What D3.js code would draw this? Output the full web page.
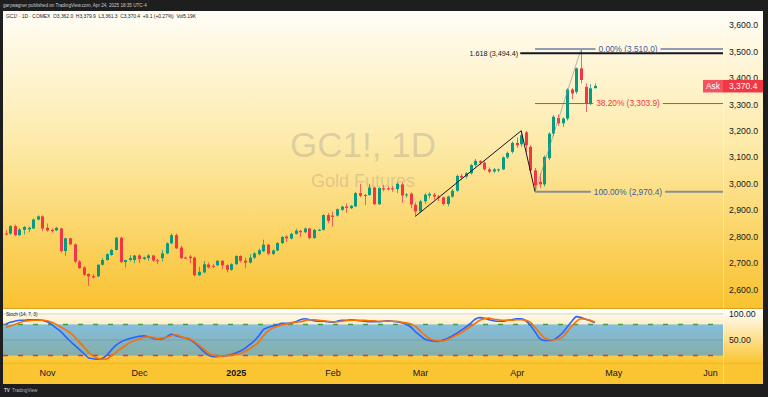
<!DOCTYPE html>
<html>
<head>
<meta charset="utf-8">
<script src="https://cdn.jsdelivr.net/npm/d3@7"></script>
<style>
html, body { margin: 0; padding: 0; background: #1e1e1e; }
svg { display: block; font-family: "Liberation Sans", Arial, sans-serif; }
</style>
</head>
<body>
<svg id="chart" width="768" height="397"></svg>
<script>
// trading days start here, weekends and these exchange holidays are skipped
var startDate = "2024-10-21";
var holidays = ["2024-11-28", "2024-12-25", "2025-01-01", "2025-01-20", "2025-02-17", "2025-04-18", "2025-05-26"];

var opens = [2812, 2812, 2840, 2806, 2826, 2828, 2831, 2865, 2877, 2834, 2826, 2824, 2831, 2746, 2794, 2771, 2706, 2684, 2659, 2651,
  2650, 2694, 2712, 2731, 2750, 2796, 2704, 2712, 2712, 2729, 2716, 2719, 2729, 2711, 2719, 2737, 2775, 2806, 2759, 2721,
  2725, 2721, 2654, 2665, 2695, 2690, 2692, 2709, 2692, 2675, 2696, 2727, 2709, 2702, 2721, 2734, 2745, 2770, 2735, 2748,
  2776, 2801, 2793, 2811, 2822, 2817, 2831, 2795, 2825, 2826, 2882, 2880, 2880, 2902, 2914, 2908, 2915, 2965, 2958, 2958,
  2986, 2923, 2984, 2983, 2983, 2980, 2998, 2958, 2963, 2921, 2896, 2934, 2956, 2959, 2952, 2949, 2924, 2952, 2974, 3030,
  3028, 3040, 3071, 3086, 3080, 3055, 3047, 3051, 3055, 3100, 3121, 3155, 3150, 3195, 3140, 3051, 3008, 2998, 3097, 3190,
  3249, 3229, 3247, 3357, 3348, 3437, 3367, 3302, 3362];
var highs = [2825, 2844, 2846, 2833, 2840, 2838, 2869, 2881, 2881, 2850, 2831, 2837, 2834, 2796, 2796, 2775, 2712, 2688, 2662, 2658,
  2696, 2719, 2737, 2754, 2800, 2800, 2712, 2731, 2731, 2734, 2725, 2734, 2731, 2716, 2750, 2779, 2812, 2812, 2766, 2725,
  2731, 2725, 2686, 2708, 2703, 2696, 2711, 2711, 2696, 2700, 2730, 2730, 2721, 2734, 2742, 2755, 2789, 2773, 2752, 2780,
  2803, 2805, 2815, 2830, 2826, 2835, 2834, 2829, 2830, 2885, 2890, 2895, 2907, 2917, 2926, 2920, 2969, 3000, 2962, 3000,
  2990, 2987, 2996, 2990, 2992, 3005, 3005, 2965, 2968, 2930, 2940, 2965, 2968, 2966, 2958, 2952, 2955, 2980, 3035, 3038,
  3045, 3075, 3094, 3090, 3086, 3062, 3060, 3058, 3104, 3122, 3160, 3175, 3201, 3200, 3146, 3060, 3040, 3108, 3195, 3260,
  3262, 3252, 3362, 3362, 3440, 3510, 3380, 3377, 3379.9];
var lows = [2805, 2808, 2802, 2803, 2808, 2817, 2831, 2862, 2821, 2819, 2816, 2821, 2741, 2728, 2769, 2700, 2679, 2652, 2614, 2642,
  2648, 2691, 2709, 2728, 2749, 2700, 2684, 2706, 2700, 2700, 2712, 2709, 2704, 2696, 2706, 2734, 2772, 2754, 2716, 2716,
  2700, 2650, 2652, 2662, 2680, 2681, 2690, 2677, 2665, 2671, 2694, 2702, 2681, 2699, 2716, 2730, 2742, 2730, 2730, 2745,
  2772, 2780, 2790, 2808, 2800, 2813, 2790, 2792, 2822, 2824, 2851, 2838, 2876, 2898, 2890, 2905, 2912, 2950, 2920, 2955,
  2920, 2920, 2972, 2975, 2970, 2965, 2928, 2948, 2908, 2877.1, 2890, 2925, 2945, 2940, 2935, 2918, 2915, 2948, 2970, 3015,
  3020, 3035, 3065, 3072, 3050, 3040, 3042, 3045, 3052, 3094, 3115, 3136, 3140, 3120, 3045, 2970.4, 2985, 2990, 3090, 3180,
  3220, 3215, 3240, 3320, 3340, 3380, 3272, 3298, 3361.3];
var closes = [2810, 2840, 2806, 2827, 2837, 2834, 2865, 2877, 2831, 2824, 2821, 2834, 2746, 2794, 2771, 2706, 2681, 2656, 2650, 2646,
  2694, 2712, 2734, 2750, 2796, 2704, 2712, 2719, 2729, 2716, 2722, 2729, 2710, 2710, 2737, 2775, 2806, 2756, 2719, 2719,
  2719, 2654, 2667, 2696, 2684, 2686, 2709, 2692, 2675, 2696, 2727, 2709, 2702, 2721, 2737, 2749, 2770, 2736, 2748, 2776,
  2799, 2794, 2811, 2823, 2817, 2831, 2795, 2826, 2826, 2882, 2860, 2875, 2904, 2914, 2909, 2917, 2965, 2955, 2956, 2986,
  2923, 2984, 2979, 2979, 2979, 3000, 2956, 2960, 2922, 2896, 2934, 2959, 2962, 2952, 2950, 2924, 2952, 2974, 3030, 3024,
  3040, 3071, 3087, 3080, 3055, 3046, 3055, 3055, 3100, 3117, 3155, 3146, 3184, 3146, 3051, 2994, 2998, 3102, 3190, 3254,
  3229, 3247, 3357, 3342, 3437, 3393, 3302, 3361.3, 3370.4];

var stochK = [80, 84, 86, 88, 88, 89, 89, 89, 88, 85, 80, 73, 66, 57, 48, 40, 32, 24, 16, 14,
  13, 15, 21, 31, 40, 46, 50, 53, 55, 57, 58, 56, 53, 52, 52, 56, 61, 58, 56, 54,
  51, 45, 37, 28, 21, 18, 18, 19, 20, 22, 25, 29, 34, 41, 48, 58, 70, 74, 77, 79,
  82, 82, 83, 85, 89, 91, 89, 87, 86, 86, 85, 84, 86, 88, 88, 89, 88, 87, 86, 85,
  85, 85, 86, 87, 86, 85, 83, 80, 75, 66, 59, 52, 49, 48, 47, 50, 53, 58, 63, 69,
  75, 82, 90, 93, 92, 89, 87, 86, 86, 88, 89, 91, 91, 87, 78, 66, 53, 49, 49, 50,
  56, 64, 75, 86, 95, 93, 90, 87, 83];
var stochD = [74, 77, 80, 83, 86, 87, 88, 88, 88, 87, 84, 80, 75, 70, 64, 56, 46, 37, 27, 19,
  15, 13, 14, 20, 26, 33, 39, 45, 49, 52, 55, 56, 55, 53, 54, 55, 58, 60, 57, 54,
  52, 47, 40, 33, 25, 21, 19, 19, 20, 21, 22, 24, 28, 33, 39, 46, 58, 67, 73, 76,
  79, 81, 82, 84, 85, 87, 89, 89, 88, 87, 86, 85, 85, 86, 87, 88, 88, 88, 88, 87,
  87, 86, 86, 86, 86, 86, 84, 83, 81, 76, 68, 60, 53, 50, 48, 48, 51, 55, 60, 64,
  70, 76, 82, 88, 91, 92, 90, 89, 88, 88, 88, 89, 89, 88, 84, 74, 64, 54, 51, 50,
  52, 56, 66, 77, 86, 91, 90, 88, 84];

var priceTicks = [2600, 2700, 2800, 2900, 3000, 3100, 3200, 3300, 3400, 3500, 3600];
var stochTicks = [50, 100];
var stochBands = [20, 80];
var monthNames = ["2025", "Feb", "Mar", "Apr", "May", "Jun", "Jul", "Aug", "Sep", "Oct", "Nov", "Dec"];

// trend based fib extension: three anchor bars and the 1.618 level
var extPoints = [[89, 2877.1], [112, 3201.0], [115, 2970.4]];
var extLevel = { text: "1.618 (3,494.4)", value: 3494.4 };
// fib retracement from the Apr 7 low to the Apr 22 high
var retrPoints = [[115, 2970.4], [125, 3510.0]];
var retrLevels = [
  { text: "0.00% (3,510.0)", value: 3510.0, line: "#8f9cb8", color: "#3f5aa5", width: 2 },
  { text: "38.20% (3,303.9)", value: 3303.9, line: "#f23645", color: "#f23645", width: 1 },
  { text: "100.00% (2,970.4)", value: 2970.4, line: "#8a8d96", color: "#3f5aa5", width: 2 }
];
var lastPrice = 3370.4;

var upColor = "#089981", downColor = "#f23645";

// build the day list
var days = [];
var d = new Date(startDate + "T00:00:00Z");
while (days.length < 160) {
  var wd = d.getUTCDay();
  var iso = d.toISOString().slice(0, 10);
  if (wd != 0 && wd != 6 && holidays.indexOf(iso) < 0) days.push(iso);
  d.setUTCDate(d.getUTCDate() + 1);
}
var monthTicks = [];
for (var i = 1; i < days.length; i++) {
  if (days[i].slice(5, 7) != days[i - 1].slice(5, 7)) monthTicks.push(i);
}

var svg = d3.select("#chart");
var left = 3, right = 723, axisRight = 763;
var mainTop = 11, mainBottom = 308, stTop = 309, stBottom = 363, timeBottom = 384;

var x = d3.scaleLinear().domain([0, 128]).range([5.56, 594.9]);
var y = d3.scaleLinear().domain([2600, 3500]).range([289.6, 51.7]);
var ys = d3.scaleLinear().domain([50, 100]).range([340, 314]);

/* backgrounds */
var defs = svg.append("defs");
var g1 = defs.append("linearGradient").attr("id", "mainBg")
  .attr("gradientUnits", "userSpaceOnUse").attr("x1", 0).attr("x2", 0).attr("y1", mainTop).attr("y2", mainBottom);
g1.append("stop").attr("offset", 0).attr("stop-color", "#fffdf6");
g1.append("stop").attr("offset", 0.45).attr("stop-color", "#fdeaa8");
g1.append("stop").attr("offset", 1).attr("stop-color", "#f9c22f");
var g2 = defs.append("linearGradient").attr("id", "stBg")
  .attr("gradientUnits", "userSpaceOnUse").attr("x1", 0).attr("x2", 0).attr("y1", stTop).attr("y2", stBottom);
g2.append("stop").attr("offset", 0).attr("stop-color", "#ffffff");
g2.append("stop").attr("offset", 1).attr("stop-color", "#fbc530");
defs.append("clipPath").attr("id", "mainClip").append("rect")
  .attr("x", left).attr("y", mainTop).attr("width", right - left).attr("height", mainBottom - mainTop);
defs.append("clipPath").attr("id", "stClip").append("rect")
  .attr("x", left).attr("y", stTop).attr("width", right - left).attr("height", stBottom - stTop);

svg.append("rect").attr("x", left).attr("y", mainTop).attr("width", axisRight - left).attr("height", mainBottom - mainTop)
  .attr("fill", "url(#mainBg)");
svg.append("rect").attr("x", left).attr("y", stTop).attr("width", axisRight - left).attr("height", stBottom - stTop)
  .attr("fill", "url(#stBg)");
svg.append("rect").attr("x", left).attr("y", stBottom).attr("width", axisRight - left).attr("height", timeBottom - stBottom)
  .attr("fill", "#fbc431");
svg.append("line").attr("x1", left).attr("x2", axisRight).attr("y1", mainBottom + 0.5).attr("y2", mainBottom + 0.5)
  .attr("stroke", "#d9a21a").attr("stroke-width", 1);
svg.append("line").attr("x1", left).attr("x2", axisRight).attr("y1", stBottom + 0.5).attr("y2", stBottom + 0.5)
  .attr("stroke", "#f2b826").attr("stroke-width", 1);
svg.append("line").attr("x1", right + 0.5).attr("x2", right + 0.5).attr("y1", mainTop).attr("y2", timeBottom)
  .attr("stroke", "#ffffff").attr("stroke-opacity", 0.35);

/* grid */
var grid = svg.append("g").attr("clip-path", "url(#mainClip)")
  .attr("transform", "translate(" + right + ",0)")
  .call(d3.axisLeft(y).tickValues(priceTicks).tickSize(right - left).tickFormat(""));
grid.select(".domain").remove();
grid.selectAll("line").attr("stroke", "#b89a5a").attr("stroke-opacity", 0.45);

/* watermark */
svg.append("text").attr("x", 363).attr("y", 157).attr("text-anchor", "middle")
  .attr("font-size", 35).attr("fill", "#787b86").attr("fill-opacity", 0.25).text("GC1!, 1D");
svg.append("text").attr("x", 363).attr("y", 187).attr("text-anchor", "middle")
  .attr("font-size", 18).attr("fill", "#787b86").attr("fill-opacity", 0.25).text("Gold Futures");

/* candles */
var plot = svg.append("g").attr("clip-path", "url(#mainClip)");
var bars = plot.selectAll("g.bar").data(d3.range(opens.length)).enter().append("g").attr("class", "bar");
bars.append("line")
  .attr("x1", function(i) { return Math.round(x(i)) + 0.5; })
  .attr("x2", function(i) { return Math.round(x(i)) + 0.5; })
  .attr("y1", function(i) { return y(highs[i]); })
  .attr("y2", function(i) { return y(lows[i]); })
  .attr("stroke", function(i) { return closes[i] >= opens[i] ? upColor : downColor; })
  .attr("stroke-opacity", 0.75);
bars.append("rect")
  .attr("x", function(i) { return Math.round(x(i)) - 1; })
  .attr("width", 3)
  .attr("y", function(i) { return y(Math.max(opens[i], closes[i])); })
  .attr("height", function(i) { return Math.max(1, Math.abs(y(opens[i]) - y(closes[i]))); })
  .attr("fill", function(i) { return closes[i] >= opens[i] ? upColor : downColor; });

/* drawings */
var lineGen = d3.line().x(function(p) { return x(p[0]); }).y(function(p) { return y(p[1]); });
plot.append("path").attr("d", lineGen(retrPoints)).attr("fill", "none")
  .attr("stroke", "#8a8d96").attr("stroke-opacity", 0.8).attr("stroke-width", 0.8);
plot.append("path").attr("d", lineGen(extPoints)).attr("fill", "none")
  .attr("stroke", "#131722").attr("stroke-width", 1);

var ext = svg.append("g");
ext.append("line").attr("x1", x(extPoints[1][0]) - 1).attr("x2", right)
  .attr("y1", y(extLevel.value)).attr("y2", y(extLevel.value))
  .attr("stroke", "#131722").attr("stroke-width", 2);
ext.append("text").attr("x", x(extPoints[1][0]) - 3).attr("y", y(extLevel.value))
  .attr("dy", "0.35em").attr("text-anchor", "end").attr("font-size", 7.2).attr("fill", "#131722")
  .text(extLevel.text);

var retrX = x(retrPoints[0][0]);
retrLevels.forEach(function(lv) {
  var ly = y(lv.value);
  var lg = svg.append("g");
  var t = lg.append("text").attr("x", 628).attr("y", ly).attr("dy", "0.35em")
    .attr("text-anchor", "middle").attr("font-size", 8.3).attr("fill", lv.color).text(lv.text);
  var w = t.node().getComputedTextLength();
  lg.insert("line", "text").attr("x1", retrX).attr("x2", 628 - w / 2 - 3).attr("y1", ly).attr("y2", ly)
    .attr("stroke", lv.line).attr("stroke-width", lv.width);
  lg.insert("line", "text").attr("x1", 628 + w / 2 + 3).attr("x2", right).attr("y1", ly).attr("y2", ly)
    .attr("stroke", lv.line).attr("stroke-width", lv.width);
});

/* price axis */
var pAxis = svg.append("g").attr("transform", "translate(" + right + ",0)")
  .call(d3.axisRight(y).tickValues(priceTicks).tickSize(0).tickPadding(6).tickFormat(d3.format(",.1f")));
pAxis.select(".domain").remove();
pAxis.selectAll("text").attr("font-size", 8.7).attr("fill", "#131722").attr("font-family", "Liberation Sans, Arial, sans-serif")
  .attr("dy", "0.28em");

// ask label, drawn over the 3,400 tick the way the reference shows it
var ay = y(lastPrice);
svg.append("rect").attr("x", 703).attr("y", ay - 6).attr("width", 20).attr("height", 12.5).attr("fill", "#f5525f");
svg.append("rect").attr("x", right).attr("y", ay - 6).attr("width", axisRight - right).attr("height", 12.5).attr("fill", "#f23645");
svg.append("text").attr("x", 713).attr("y", ay + 0.3).attr("dy", "0.35em").attr("text-anchor", "middle")
  .attr("font-size", 8.5).attr("fill", "#ffffff").text("Ask");
svg.append("text").attr("x", 729).attr("y", ay + 0.3).attr("dy", "0.35em")
  .attr("font-size", 8.5).attr("fill", "#ffffff").text(d3.format(",.1f")(lastPrice));

/* stochastic pane */
var st = svg.append("g").attr("clip-path", "url(#stClip)");
st.append("line").attr("x1", left).attr("x2", right).attr("y1", ys(100)).attr("y2", ys(100))
  .attr("stroke", "#e4dfd4").attr("stroke-width", 1.5);
st.append("rect").attr("x", left).attr("width", right - left)
  .attr("y", ys(stochBands[1])).attr("height", ys(stochBands[0]) - ys(stochBands[1]))
  .attr("fill", "#2196f3").attr("fill-opacity", 0.55);
st.append("line").attr("x1", left).attr("x2", right).attr("y1", ys(50)).attr("y2", ys(50))
  .attr("stroke", "#5a7a8a").attr("stroke-opacity", 0.35);
st.append("line").attr("x1", left).attr("x2", right).attr("y1", ys(stochBands[1])).attr("y2", ys(stochBands[1]))
  .attr("stroke", "#43a047").attr("stroke-width", 1.5).attr("stroke-dasharray", "5,10");
st.append("line").attr("x1", left).attr("x2", right).attr("y1", ys(stochBands[0])).attr("y2", ys(stochBands[0]))
  .attr("stroke", "#f0285a").attr("stroke-width", 1.5).attr("stroke-dasharray", "5,10");
var kLine = d3.line().x(function(v, i) { return x(i); }).y(function(v) { return ys(v); }).curve(d3.curveMonotoneX);
st.append("path").attr("d", kLine(stochK)).attr("fill", "none").attr("stroke", "#2962ff").attr("stroke-width", 1.6);
st.append("path").attr("d", kLine(stochD)).attr("fill", "none").attr("stroke", "#ff6d00").attr("stroke-width", 1.6);

var sAxis = svg.append("g").attr("transform", "translate(" + right + ",0)")
  .call(d3.axisRight(ys).tickValues(stochTicks).tickSize(0).tickPadding(6).tickFormat(d3.format(".2f")));
sAxis.select(".domain").remove();
sAxis.selectAll("text").attr("font-size", 8.7).attr("fill", "#131722").attr("font-family", "Liberation Sans, Arial, sans-serif")
  .attr("dy", "0.28em");

/* time axis */
var tAxis = svg.append("g").attr("transform", "translate(0," + stBottom + ")")
  .call(d3.axisBottom(x).tickValues(monthTicks.filter(function(i) { return x(i) < right - 8; }))
    .tickSize(0).tickPadding(7)
    .tickFormat(function(i) { return monthNames[+days[i].slice(5, 7) - 1]; }));
tAxis.select(".domain").remove();
tAxis.selectAll("text").attr("font-size", 9).attr("fill", "#131722").attr("font-family", "Liberation Sans, Arial, sans-serif")
  .attr("font-weight", function(i) { return days[i].slice(5, 7) == "01" ? "bold" : "normal"; });

/* legends */
svg.append("text").attr("x", 6).attr("y", 17.5).attr("font-size", 4.9).attr("fill", "#131722")
  .style("white-space", "pre")
  .text("GC1! \u00b7 1D \u00b7 COMEX  O3,362.0  H3,379.9  L3,361.3  C3,370.4  +9.1 (+0.27%)  Vol5.19K");
svg.append("text").attr("x", 6).attr("y", 315.5).attr("font-size", 4.6).attr("fill", "#131722")
  .text("Stoch (14, 7, 3)");
svg.append("text").attr("x", 3).attr("y", 7).attr("font-size", 4.6).attr("fill", "#c9ccd4")
  .text("garywagner published on TradingView.com, Apr 24, 2025 18:35 UTC-4");
svg.append("text").attr("x", 4).attr("y", 392).attr("font-size", 4.6).attr("font-weight", "bold").attr("fill", "#c9ccd4")
  .text("TV");
svg.append("text").attr("x", 12).attr("y", 392).attr("font-size", 4.6).attr("fill", "#b2b5be")
  .text("TradingView");
</script>
</body>
</html>
